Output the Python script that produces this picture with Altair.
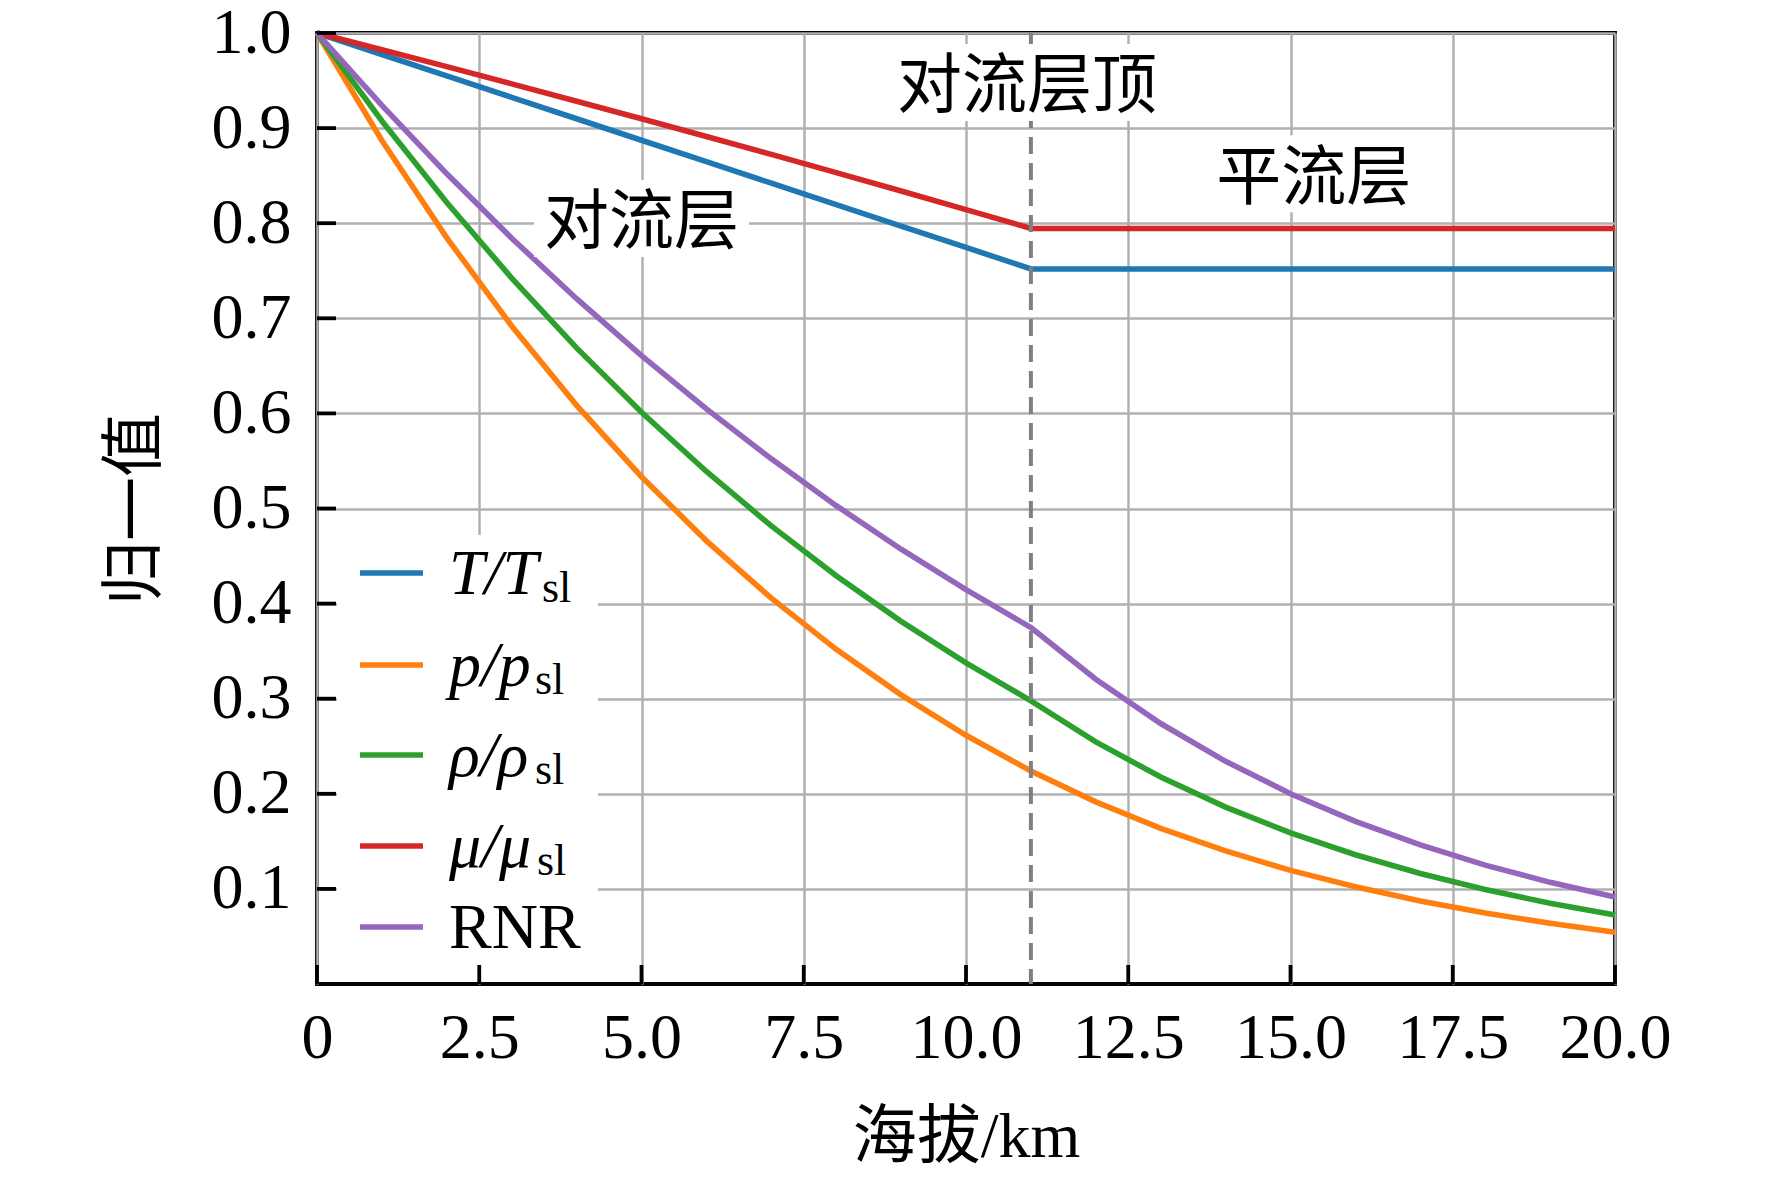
import altair as alt
import pandas as pd

# ---------------- data ----------------
altitude_km = [0, 1, 2, 3, 4, 5, 6, 7, 8, 9, 10, 11, 12, 13, 14, 15, 16, 17, 18, 19, 20]
T_ratio = [1.0, 0.9774, 0.9549, 0.9323, 0.9098, 0.8872, 0.8647, 0.8421, 0.8196, 0.7970, 0.7745,
           0.7519, 0.7519, 0.7519, 0.7519, 0.7519, 0.7519, 0.7519, 0.7519, 0.7519, 0.7519]
p_ratio = [1.0, 0.8870, 0.7846, 0.6920, 0.6085, 0.5334, 0.4660, 0.4057, 0.3519, 0.3040, 0.2615,
           0.2240, 0.1915, 0.1636, 0.1399, 0.1195, 0.1022, 0.0873, 0.0746, 0.0638, 0.0545]
rho_ratio = [1.0, 0.9075, 0.8217, 0.7423, 0.6689, 0.6012, 0.5389, 0.4817, 0.4292, 0.3813, 0.3376,
             0.2978, 0.2546, 0.2176, 0.1860, 0.1590, 0.1359, 0.1162, 0.0993, 0.0849, 0.0726]
mu_ratio = [1.0, 0.9824, 0.9646, 0.9465, 0.9283, 0.9099, 0.8912, 0.8724, 0.8532, 0.8339, 0.8143,
            0.7945, 0.7945, 0.7945, 0.7945, 0.7945, 0.7945, 0.7945, 0.7945, 0.7945, 0.7945]
rnr_ratio = [1.0, 0.9238, 0.8519, 0.7842, 0.7206, 0.6607, 0.6047, 0.5522, 0.5030, 0.4572, 0.4146,
             0.3748, 0.3205, 0.2739, 0.2341, 0.2001, 0.1711, 0.1463, 0.1250, 0.1069, 0.0914]

series_values = [T_ratio, p_ratio, rho_ratio, mu_ratio, rnr_ratio]
series_colors = ["#1f77b4", "#ff7f0e", "#2ca02c", "#d62728", "#9467bd"]
legend_main = ["T/T", "p/p", "ρ/ρ", "μ/μ", "RNR"]
legend_sub = ["sl", "sl", "sl", "sl", ""]
legend_italic = [True, True, True, True, False]

x_ticks = [0, 2.5, 5.0, 7.5, 10.0, 12.5, 15.0, 17.5, 20.0]
y_ticks = [0.1, 0.2, 0.3, 0.4, 0.5, 0.6, 0.7, 0.8, 0.9, 1.0]
tropopause_km = [11]

annot_text = ["对流层", "对流层顶", "平流层"]
annot_x = [5.0, 10.94, 15.36]
annot_y = [0.805, 0.948, 0.852]

# ---------------- layout / style ----------------
W, H = 1298, 951
SERIF = "Liberation Serif"
CJK = "Liberation Serif, Noto Sans CJK SC"
FS = 64
FRAME_W = 3.8
LINE_W = 5.6

x_enc = alt.X(
    "altitude:Q",
    scale=alt.Scale(domain=[0, 20], nice=False, zero=False),
    axis=alt.Axis(values=x_ticks,
                  labelExpr="datum.value == 0 ? '0' : format(datum.value, '.1f')",
                  title="海拔/km", titleY=172, titleBaseline="alphabetic",
                  labelPadding=22),
)
y_enc = alt.Y(
    "value:Q",
    scale=alt.Scale(domain=[0, 1], nice=False, zero=False),
    axis=alt.Axis(values=y_ticks, format=".1f",
                  title="归一值", titleX=-163, titleY=H / 2, titleAngle=270,
                  titleBaseline="alphabetic", titleAlign="center",
                  labelPadding=26),
)

layers = []

# data lines
for vals, col in zip(series_values, series_colors):
    df = pd.DataFrame({"altitude": altitude_km, "value": vals})
    layers.append(
        alt.Chart(df).mark_line(color=col, strokeWidth=LINE_W, strokeCap="butt")
        .encode(x=x_enc, y=y_enc)
    )

# tropopause dashed line
layers.append(
    alt.Chart(pd.DataFrame({"altitude": tropopause_km}))
    .mark_rule(color="#808080", strokeWidth=4, strokeDash=[17, 9])
    .encode(x=x_enc)
)

# annotation boxes + texts
for txt, ax, ay in zip(annot_text, annot_x, annot_y):
    bw = 65 * len(txt) + 20
    bh = 77
    h = bh / bw
    path = f"M-1,-{h:.4f}L1,-{h:.4f}L1,{h:.4f}L-1,{h:.4f}Z"
    df = pd.DataFrame({"altitude": [ax], "value": [ay], "label": [txt]})
    layers.append(
        alt.Chart(df).mark_point(shape=path, size=bw * bw, filled=True,
                                 fill="white", opacity=1, strokeWidth=0)
        .encode(x=x_enc, y=y_enc)
    )
    layers.append(
        alt.Chart(df).mark_text(font="Noto Sans CJK SC", fontSize=65, align="center",
                                baseline="middle", dy=5, color="black")
        .encode(x=x_enc, y=y_enc, text="label:N")
    )

# legend (manual, to allow italic + subscript labels)
one = pd.DataFrame({"k": [0]})
layers.append(
    alt.Chart(one).mark_rect(fill="white", strokeWidth=0)
    .encode(x=alt.value(20), x2=alt.value(281), y=alt.value(502), y2=alt.value(942))
)
rows_y = [540, 632, 722, 813, 894]
sub_x = [225, 218, 218, 220, 0]
for i in range(5):
    ry = rows_y[i]
    layers.append(
        alt.Chart(one).mark_rule(color=series_colors[i], strokeWidth=LINE_W)
        .encode(x=alt.value(43), x2=alt.value(106), y=alt.value(ry))
    )
    layers.append(
        alt.Chart(one).mark_text(text=legend_main[i], font=SERIF, fontSize=FS,
                                 fontStyle="italic" if legend_italic[i] else "normal",
                                 align="left", baseline="alphabetic", color="black")
        .encode(x=alt.value(132), y=alt.value(ry + 21))
    )
    if legend_sub[i]:
        layers.append(
            alt.Chart(one).mark_text(text=legend_sub[i], font=SERIF, fontSize=44,
                                     align="left", baseline="alphabetic", color="black")
            .encode(x=alt.value(sub_x[i]), y=alt.value(ry + 29))
        )

# inward ticks
layers.append(
    alt.Chart(pd.DataFrame({"altitude": x_ticks}))
    .mark_rule(color="black", strokeWidth=FRAME_W)
    .encode(x=x_enc, y=alt.value(H - 19), y2=alt.value(H))
)
layers.append(
    alt.Chart(pd.DataFrame({"value": y_ticks}))
    .mark_rule(color="black", strokeWidth=FRAME_W)
    .encode(y=y_enc, x=alt.value(0), x2=alt.value(19))
)

chart = (
    alt.layer(*layers)
    .properties(width=W, height=H,
                padding={"left": 309, "top": 25, "right": 140, "bottom": 186},
                autosize=alt.AutoSizeParams(type="none"),
                background="white")
    .configure_view(stroke="black", strokeWidth=FRAME_W)
    .configure_axis(
        labelFont=SERIF, labelFontSize=FS, labelColor="black",
        titleFont=CJK, titleFontSize=FS, titleFontWeight="normal", titleColor="black",
        grid=True, gridColor="#b0b0b0", gridWidth=2.5, gridOpacity=1,
        domain=False, ticks=False, tickSize=0,
        labelFlush=False, labelOverlap=False, labelBound=False,
    )
)

chart.save("out.html", embed_options={"renderer": "svg", "actions": False})
